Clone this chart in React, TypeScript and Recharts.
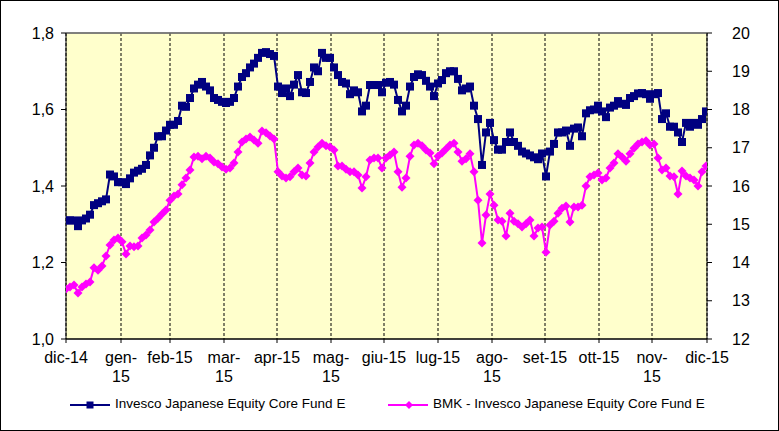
import React from "react";
import { LineChart, Line, XAxis, YAxis, CartesianGrid, ReferenceLine } from "recharts";

// fund NAV (left axis), one value every ~4px of the original date axis
const fund = [
  1.31, 1.31, 1.31, 1.295, 1.31, 1.315, 1.325, 1.35, 1.355, 1.36,
  1.365, 1.43, 1.425, 1.41, 1.41, 1.405, 1.42, 1.435, 1.44, 1.445,
  1.455, 1.48, 1.5, 1.53, 1.53, 1.545, 1.56, 1.56, 1.57, 1.61,
  1.607, 1.63, 1.655, 1.665, 1.672, 1.66, 1.65, 1.63, 1.625, 1.62,
  1.617, 1.62, 1.63, 1.66, 1.685, 1.695, 1.71, 1.72, 1.735, 1.748,
  1.75, 1.745, 1.74, 1.66, 1.643, 1.655, 1.635, 1.665, 1.69, 1.645,
  1.643, 1.672, 1.71, 1.7, 1.748, 1.735, 1.735, 1.71, 1.69, 1.672,
  1.668, 1.64, 1.65, 1.645, 1.595, 1.61, 1.664, 1.664, 1.664, 1.645,
  1.67, 1.672, 1.665, 1.625, 1.595, 1.61, 1.66, 1.685, 1.692, 1.69,
  1.675, 1.66, 1.635, 1.668, 1.677, 1.695, 1.7, 1.7, 1.68, 1.65,
  1.655, 1.66, 1.61, 1.575, 1.455, 1.54, 1.565, 1.52, 1.495, 1.495,
  1.515, 1.54, 1.515, 1.505, 1.49, 1.485, 1.48, 1.475, 1.47, 1.485,
  1.425, 1.49, 1.51, 1.54, 1.54, 1.545, 1.505, 1.55, 1.553, 1.53,
  1.59, 1.598, 1.6, 1.61, 1.595, 1.58, 1.605, 1.61, 1.622, 1.615,
  1.612, 1.63, 1.635, 1.642, 1.643, 1.64, 1.628, 1.64, 1.643, 1.575,
  1.59, 1.555, 1.555, 1.54, 1.515, 1.565, 1.555, 1.565, 1.56, 1.575,
  1.595,
];

// benchmark (right axis)
const bmk = [
  13.31, 13.36, 13.41, 13.2, 13.36, 13.44, 13.49, 13.86, 13.8, 13.91,
  14.17, 14.46, 14.59, 14.64, 14.54, 14.22, 14.43, 14.41, 14.43, 14.64,
  14.72, 14.85, 15.06, 15.16, 15.27, 15.37, 15.63, 15.74, 15.79, 16.03,
  16.21, 16.42, 16.76, 16.78, 16.71, 16.78, 16.73, 16.63, 16.58, 16.5,
  16.44, 16.47, 16.6, 16.89, 17.15, 17.23, 17.28, 17.2, 17.12, 17.44,
  17.39, 17.31, 17.23, 16.37, 16.26, 16.21, 16.24, 16.37, 16.47, 16.29,
  16.26, 16.6, 16.89, 17.02, 17.12, 17.05, 17.02, 16.94, 16.52, 16.52,
  16.44, 16.37, 16.37, 16.29, 15.95, 16.24, 16.68, 16.73, 16.73, 16.47,
  16.73, 16.81, 16.89, 16.37, 15.97, 16.21, 16.78, 17.07, 17.12, 17.05,
  16.94, 16.86, 16.58, 16.78, 16.86, 16.97, 17.07, 17.12, 16.89, 16.65,
  16.71, 16.84, 16.37, 15.63, 14.51, 15.24, 15.79, 15.5, 15.11, 15.08,
  14.69, 15.29, 15.08, 15.01, 14.93, 15.01, 15.11, 14.69, 14.9, 14.93,
  14.27, 14.98, 15.08, 15.29, 15.42, 15.48, 15.06, 15.45, 15.45, 15.5,
  16.0, 16.24, 16.29, 16.34, 16.16, 16.21, 16.47, 16.6, 16.84, 16.76,
  16.65, 16.84, 16.99, 17.1, 17.15, 17.18, 17.07, 17.1, 16.73, 16.42,
  16.47, 16.26, 16.24, 15.79, 16.39, 16.26, 16.21, 16.16, 16.0, 16.37,
  16.52,
];

const monthPos = [0, 13.75, 26, 39.5, 52.75, 66.25, 79.5, 93, 106.5, 119.75, 133.25, 146.5, 160.25];
const monthLines = [
  ["dic-14"], ["gen-", "15"], ["feb-15"], ["mar-", "15"], ["apr-15"], ["mag-", "15"],
  ["giu-15"], ["lug-15"], ["ago-", "15"], ["set-15"], ["ott-15"], ["nov-", "15"], ["dic-15"],
];
const leftTicks = [1.0, 1.2, 1.4, 1.6, 1.8];
const rightTicks = [12, 13, 14, 15, 16, 17, 18, 19, 20];
const seriesNames = ["Invesco Japanese Equity Core Fund E", "BMK - Invesco Japanese Equity Core Fund E"];

const rows = fund.map((v, i) => ({ i, fund: v, bmk: bmk[i] }));

const FONT = "'Liberation Sans', Arial, sans-serif";
const NAVY = "#000080";
const PINK = "#FF00FF";

const Square = (p: any) => {
  if (p.cx == null || p.cy == null) return <g key={p.key} />;
  return <rect key={p.key} x={p.cx - 4} y={p.cy - 4} width={8} height={8} fill={NAVY} />;
};

const Diamond = (p: any) => {
  if (p.cx == null || p.cy == null) return <g key={p.key} />;
  const { cx, cy } = p;
  return <path key={p.key} d={`M${cx},${cy - 4.5} L${cx + 4.5},${cy} L${cx},${cy + 4.5} L${cx - 4.5},${cy} Z`} fill={PINK} />;
};

const MonthTick = (p: any) => {
  const idx = monthPos.indexOf(p.payload.value);
  const lines = monthLines[idx] || [];
  return (
    <text x={p.x} y={p.y + 18} textAnchor="middle" fontSize={16} fontFamily={FONT} fill="#000">
      {lines.map((l, k) => (
        <tspan key={k} x={p.x} dy={k === 0 ? 0 : 19}>{l}</tspan>
      ))}
    </text>
  );
};

function ChartLegend() {
  return (
    <div style={{ position: "absolute", left: 0, top: 390, width: 779, height: 30, fontFamily: FONT, fontSize: 13.5 }}>
      <svg width={50} height={12} style={{ position: "absolute", left: 68, top: 9 }}>
        <line x1={2} y1={6} x2={42} y2={6} stroke={NAVY} strokeWidth={2} />
        <rect x={18.5} y={2.5} width={7} height={7} fill={NAVY} />
      </svg>
      <span style={{ position: "absolute", left: 115, top: 6 }}>{seriesNames[0]}</span>
      <svg width={50} height={12} style={{ position: "absolute", left: 386, top: 9 }}>
        <line x1={2} y1={6} x2={42} y2={6} stroke={PINK} strokeWidth={2} />
        <path d="M23,2 L27,6 L23,10 L19,6 Z" fill={PINK} />
      </svg>
      <span style={{ position: "absolute", left: 433, top: 6 }}>{seriesNames[1]}</span>
    </div>
  );
}

export default function App() {
  return (
    <div style={{ position: "absolute", left: 0, top: 0, width: 779, height: 431, background: "#fff" }}>
      <LineChart width={779} height={431} data={rows} margin={{ top: 33, right: 32, bottom: 62, left: 10 }}>
        <CartesianGrid fill="#FFFFCC" vertical={false} stroke="#000" strokeDasharray="0" />
        <CartesianGrid horizontal={false} stroke="#000" strokeDasharray="3 2" fill="none" />
        <XAxis
          dataKey="i"
          type="number"
          height={30}
          domain={[0, 160.25]}
          ticks={monthPos}
          interval={0}
          tick={<MonthTick />}
          tickSize={4}
          axisLine={{ stroke: "#000" }}
          tickLine={{ stroke: "#000" }}
          allowDataOverflow
        />
        <YAxis
          yAxisId="left"
          width={56}
          domain={[1.0, 1.8]}
          ticks={leftTicks}
          interval={0}
          tickFormatter={(v: number) => v.toFixed(1).replace(".", ",")}
          tick={{ fontSize: 16, fill: "#000", fontFamily: FONT }}
          tickSize={5}
          tickMargin={7}
          axisLine={{ stroke: "#000" }}
          tickLine={{ stroke: "#000" }}
        />
        <YAxis
          yAxisId="right"
          orientation="right"
          width={40}
          domain={[12, 20]}
          ticks={rightTicks}
          interval={0}
          tick={{ fontSize: 16, fill: "#000", fontFamily: FONT }}
          tickSize={5}
          tickMargin={20}
          axisLine={{ stroke: "#000" }}
          tickLine={{ stroke: "#000" }}
        />
        <ReferenceLine yAxisId="left" y={1.8} stroke="#808080" strokeWidth={1.5} />
        <Line
          yAxisId="left"
          dataKey="fund"
          type="linear"
          stroke={NAVY}
          strokeWidth={2}
          dot={Square}
          activeDot={false}
          isAnimationActive={false}
        />
        <Line
          yAxisId="right"
          dataKey="bmk"
          type="linear"
          stroke={PINK}
          strokeWidth={2}
          dot={Diamond}
          activeDot={false}
          isAnimationActive={false}
        />
      </LineChart>
      <ChartLegend />
      <div style={{ position: "absolute", inset: 0, border: "1px solid #000", boxSizing: "border-box", pointerEvents: "none" }} />
    </div>
  );
}
